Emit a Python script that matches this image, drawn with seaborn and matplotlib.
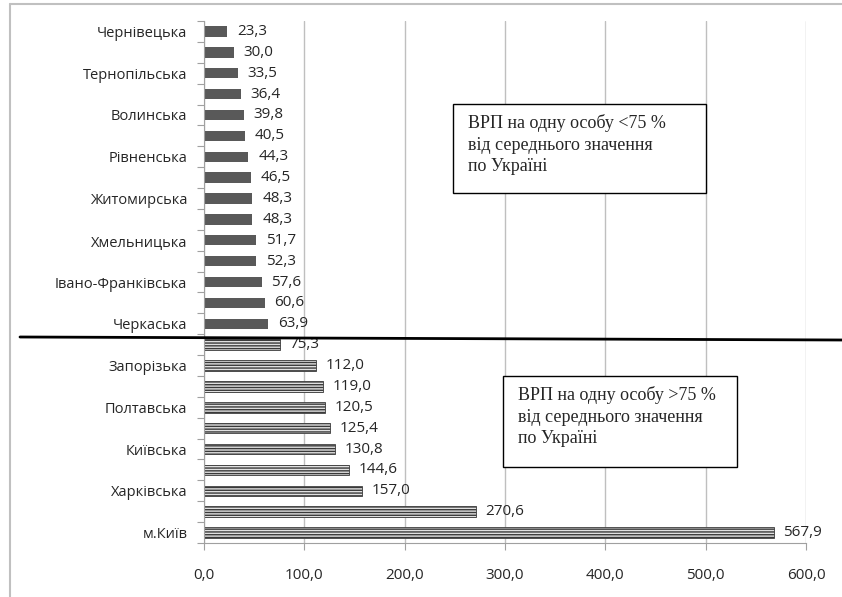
import numpy as np
import pandas as pd
import matplotlib
matplotlib.use('Agg')
import matplotlib.pyplot as plt
import matplotlib.patches as mpatches
from matplotlib.lines import Line2D
import seaborn as sns

# Дані: ВРП на одну особу за регіонами
regions = ['Чернівецька', '', 'Тернопільська', '', 'Волинська', '',
           'Рівненська', '', 'Житомирська', '', 'Хмельницька', '',
           'Івано-Франківська', '', 'Черкаська', '', 'Запорізька', '',
           'Полтавська', '', 'Київська', '', 'Харківська', '', 'м.Київ']
values = [23.3, 30.0, 33.5, 36.4, 39.8, 40.5, 44.3, 46.5, 48.3, 48.3,
          51.7, 52.3, 57.6, 60.6, 63.9, 75.3, 112.0, 119.0, 120.5, 125.4,
          130.8, 144.6, 157.0, 270.6, 567.9]
xticks = [0, 100, 200, 300, 400, 500, 600]
n_low = 15  # кількість регіонів з ВРП < 75 %

sns.set_style('white')
plt.rcParams['font.family'] = ['Open Sans', 'DejaVu Sans']
plt.rcParams['hatch.linewidth'] = 1.0

W, H = 842, 597
fig = plt.figure(figsize=(W / 100, H / 100), dpi=100)
ax = fig.add_axes([204 / W, 1 - 543 / H, (806 - 204) / W, (543 - 21) / H])

df = pd.DataFrame({'pos': range(len(values)), 'value': values})
sns.barplot(data=df, x='value', y='pos', orient='h', color='#595959',
            width=0.5, saturation=1, ax=ax)

for i, bar in enumerate(ax.patches):
    if i >= n_low:
        bar.set_facecolor('#e0e0e0')
        bar.set_edgecolor('#3a3a3a')
        bar.set_hatch('------')
        bar.set_linewidth(0.6)
    else:
        bar.set_edgecolor('none')

labels = [f'{v:.1f}'.replace('.', ',') for v in values]
ax.bar_label(ax.containers[0], labels=labels, padding=7, fontsize=11,
             color='#262626')

ax.set_xlim(0, 600)
ax.set_ylim(24.5, -0.5)
ax.set_xticks(xticks)
ax.set_xticklabels([f'{t:.1f}'.replace('.', ',') for t in xticks])
ax.set_yticks(range(len(regions)))
ax.set_yticklabels(regions)
ax.set_yticks(np.arange(-0.5, 25, 1), minor=True)
ax.tick_params(axis='y', which='major', length=0, pad=12, labelsize=10.5,
               labelcolor='#262626')
ax.tick_params(axis='y', which='minor', length=5, width=0.8, color='#a0a0a0',
               left=True)
ax.tick_params(axis='x', length=5, width=0.8, color='#a0a0a0', pad=13,
               labelsize=11, labelcolor='#262626', bottom=True)
ax.set_xlabel('')
ax.set_ylabel('')
ax.grid(axis='x', color='#bfbfbf', linewidth=1)
ax.set_axisbelow(True)
for side in ['top', 'right']:
    ax.spines[side].set_visible(False)
for side in ['left', 'bottom']:
    ax.spines[side].set_color('#a0a0a0')
    ax.spines[side].set_linewidth(0.8)

# рамка діаграми
fig.add_artist(Line2D([10 / W, 1], [1 - 4 / H, 1 - 4 / H], color='#c0c0c0', lw=1.5))
fig.add_artist(Line2D([10 / W, 10 / W], [0, 1 - 4 / H], color='#c0c0c0', lw=1.5))

# розділова лінія
fig.add_artist(Line2D([20 / W, 1], [1 - 337 / H, 1 - 340 / H], color='black', lw=2))

# текстові блоки
boxes = [
    ((453, 104, 706, 193), 'ВРП на одну особу <75 %\nвід середнього значення\nпо Україні'),
    ((503, 376, 737, 467), 'ВРП на одну особу >75 %\nвід середнього значення\nпо Україні'),
]
for (x0, y0, x1, y1), txt in boxes:
    fig.add_artist(mpatches.Rectangle((x0 / W, 1 - y1 / H), (x1 - x0) / W, (y1 - y0) / H,
                                      facecolor='white', edgecolor='black', lw=1))
    fig.text((x0 + 15) / W, 1 - (y0 + 10) / H, txt, ha='left', va='top',
             fontsize=13, family=['Liberation Serif'], linespacing=1.35)

fig.savefig('out.png', dpi=100)
